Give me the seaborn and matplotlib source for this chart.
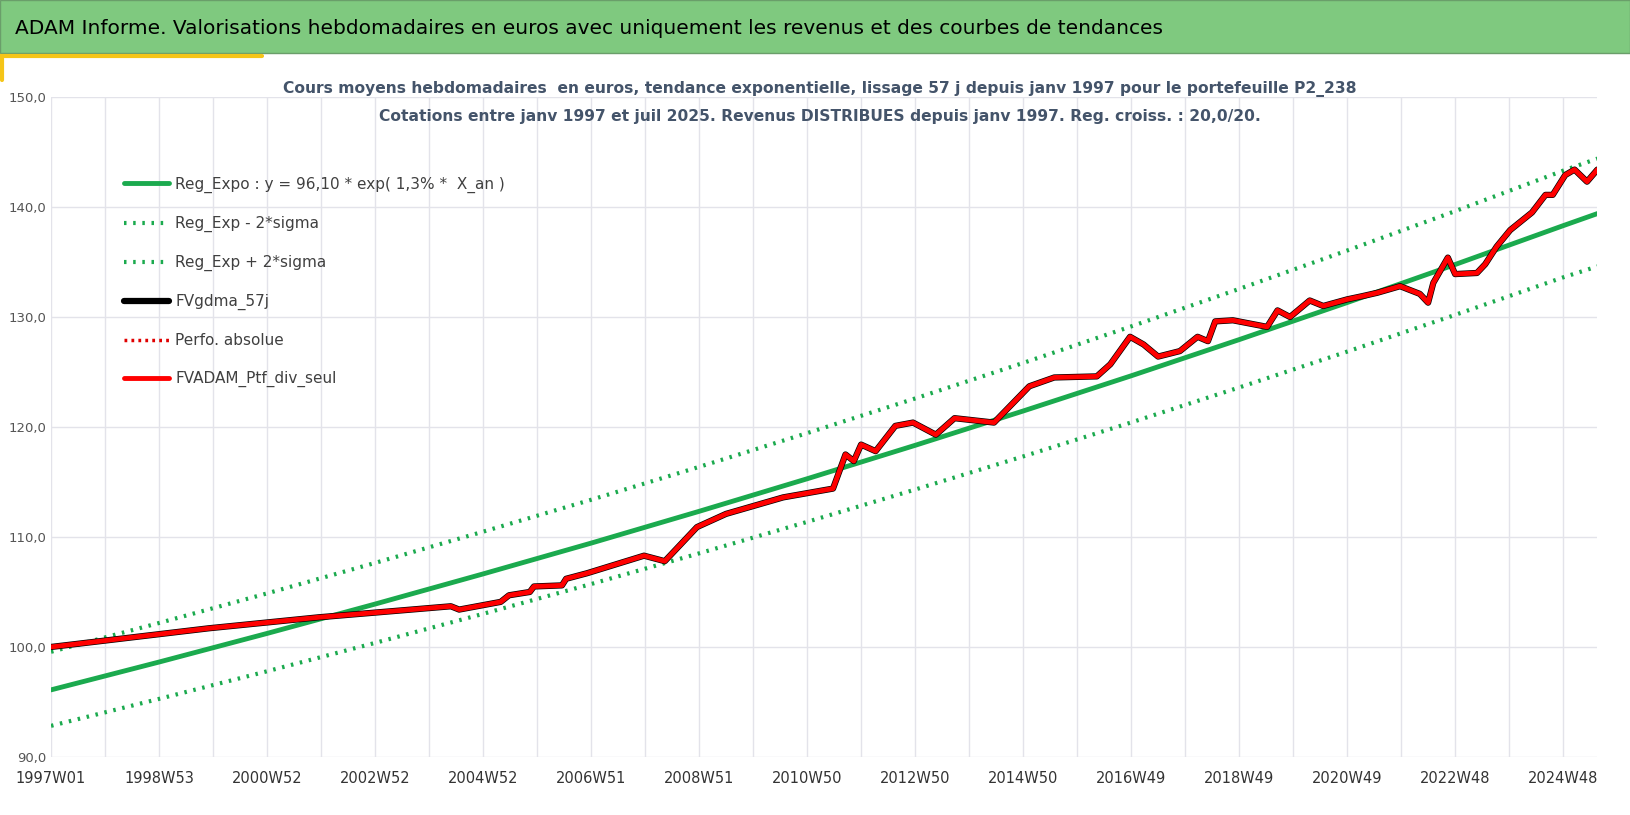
import pandas as pd
import matplotlib.pyplot as plt
import matplotlib.ticker as mticker
import seaborn as sns

# semaines depuis 1997W01 et valeur du portefeuille
weeks = [0, 152, 258, 385, 393, 433, 441, 461, 465, 492, 496, 516, 571, 591, 622, 650,
         705, 753, 765, 773, 780, 794, 813, 830, 852, 870, 908, 942, 966, 1007, 1020,
         1039, 1052, 1066, 1087, 1104, 1114, 1121, 1138, 1171, 1181, 1193, 1212, 1225,
         1248, 1263, 1277, 1299, 1318, 1326, 1331, 1345, 1352, 1373, 1381, 1392, 1405,
         1426, 1439, 1446, 1458, 1467, 1479, 1489]
ptf_values = [100.0, 101.7, 102.7, 103.7, 103.4, 104.1, 104.7, 105.0, 105.5, 105.6, 106.2,
              106.7, 108.3, 107.8, 110.9, 112.1, 113.6, 114.4, 117.5, 116.9, 118.4, 117.8,
              120.1, 120.4, 119.3, 120.8, 120.4, 123.7, 124.5, 124.6, 125.7, 128.2, 127.5,
              126.4, 126.9, 128.2, 127.8, 129.6, 129.7, 129.1, 130.6, 130.0, 131.5, 131.0,
              131.6, 131.9, 132.2, 132.8, 132.1, 131.3, 133.1, 135.4, 133.9, 134.0, 134.8,
              136.4, 137.9, 139.5, 141.1, 141.1, 142.9, 143.4, 142.3, 143.4]

# courbes de tendance
trend_weeks = [0, 104, 208, 312, 416, 520, 624, 728, 832, 936, 1040, 1144, 1248, 1352, 1456, 1489]
reg_expo = [96.10, 98.63, 101.23, 103.90, 106.64, 109.44, 112.33, 115.29, 118.33, 121.45,
            124.65, 127.94, 131.31, 134.77, 138.3, 139.4]
reg_plus = [99.56, 102.18, 104.87, 107.64, 110.48, 113.38, 116.37, 119.44, 122.59, 125.82,
            129.14, 132.55, 136.04, 139.62, 143.3, 144.4]
reg_minus = [92.83, 95.28, 97.79, 100.37, 103.01, 105.72, 108.51, 111.37, 114.31, 117.32,
             120.41, 123.59, 126.85, 130.19, 133.6, 134.6]

tick_labels = ["1997W01", "1998W53", "2000W52", "2002W52", "2004W52", "2006W51", "2008W51",
               "2010W50", "2012W50", "2014W50", "2016W49", "2018W49", "2020W49", "2022W48",
               "2024W48"]

sns.set_style("white")
plt.rcParams["font.family"] = ["DejaVu Sans"]

ptf = pd.DataFrame({"week": weeks, "value": ptf_values})
trend = pd.DataFrame({"week": trend_weeks, "reg": reg_expo, "plus": reg_plus, "minus": reg_minus})

fig = plt.figure(figsize=(16.3, 8.15), dpi=100)
ax = fig.add_axes([0.0313, 0.0712, 0.9487, 0.8098])

green = "#1BAA4E"
sns.lineplot(data=trend, x="week", y="reg", ax=ax, color=green, lw=3.5,
             label="Reg_Expo : y = 96,10 * exp( 1,3% *  X_an )")
sns.lineplot(data=trend, x="week", y="minus", ax=ax, color=green, lw=3, ls=(0, (0.6, 1.6)),
             label="Reg_Exp - 2*sigma")
sns.lineplot(data=trend, x="week", y="plus", ax=ax, color=green, lw=3, ls=(0, (0.6, 1.6)),
             label="Reg_Exp + 2*sigma")
sns.lineplot(data=ptf, x="week", y="value", ax=ax, color="black", lw=4.5, label="FVgdma_57j")
ax.plot([], [], color="#E00000", lw=2.5, ls=(0, (0.8, 1.2)), label="Perfo. absolue")
sns.lineplot(data=ptf, x="week", y="value", ax=ax, color="#FF0000", lw=3.5,
             label="FVADAM_Ptf_div_seul")

ax.set_xlim(0, 1489)
ax.set_ylim(90, 150)
ax.set_xticks(range(0, 1457, 104))
ax.set_xticklabels(tick_labels, fontsize=10.5, color="#333333")
ax.set_xticks(range(52, 1489, 104), minor=True)
ax.set_yticks(range(90, 151, 10))
ax.yaxis.set_major_formatter(mticker.FuncFormatter(lambda v, p: f"{v:.1f}".replace(".", ",")))
ax.tick_params(axis="y", labelsize=9.5, labelcolor="#555555", length=0)
ax.tick_params(axis="x", length=0, pad=10)
ax.tick_params(axis="x", which="minor", length=0)
ax.grid(True, which="both", color="#E3E3EA", lw=1)
ax.set_xlabel("")
ax.set_ylabel("")
for s in ax.spines.values():
    s.set_visible(False)

leg = ax.legend(loc="upper left", bbox_to_anchor=(0.038, 0.9), frameon=False, fontsize=11,
                labelspacing=1.5, handlelength=3.0, handletextpad=0.4)
for t in leg.get_texts():
    t.set_color("#404040")

# bandeau du titre
fig.patches.append(plt.Rectangle((0, 1 - 53 / 815), 1, 53 / 815, transform=fig.transFigure,
                                 facecolor="#7FC97F", edgecolor="#6A9E6A", lw=1))
fig.lines.append(plt.Line2D([0, 262 / 1630], [1 - 56 / 815] * 2, transform=fig.transFigure,
                            color="#F5C518", lw=3))
fig.lines.append(plt.Line2D([0.0015] * 2, [1 - 56 / 815, 1 - 80 / 815], transform=fig.transFigure,
                            color="#F5C518", lw=3))
fig.text(0.009, 1 - 28 / 815,
         "ADAM Informe. Valorisations hebdomadaires en euros avec uniquement les revenus et des courbes de tendances",
         fontsize=14.5, va="center", ha="left", color="black")

fig.text(0.503, 1 - 89 / 815,
         "Cours moyens hebdomadaires  en euros, tendance exponentielle, lissage 57 j depuis janv 1997 pour le portefeuille P2_238",
         fontsize=11.2, fontweight="bold", color="#44546A", ha="center", va="center")
fig.text(0.503, 1 - 116 / 815,
         "Cotations entre janv 1997 et juil 2025. Revenus DISTRIBUES depuis janv 1997. Reg. croiss. : 20,0/20.",
         fontsize=11.2, fontweight="bold", color="#44546A", ha="center", va="center")

fig.savefig("out.png", dpi=100)
